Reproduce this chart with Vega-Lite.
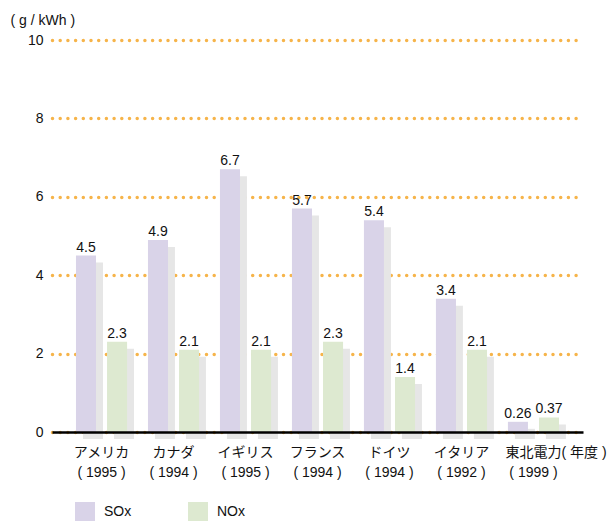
{
  "$schema": "https://vega.github.io/schema/vega-lite/v6.json",
  "width": 531,
  "height": 392,
  "autosize": {"type": "none"},
  "padding": {"left": 52, "top": 40, "right": 32, "bottom": 89},
  "background": "white",
  "config": {"view": {"stroke": null}},
  "data": {
    "values": [
      {"country": "アメリカ|( 1995 )", "series": "SOx", "value": 4.5},
      {"country": "アメリカ|( 1995 )", "series": "NOx", "value": 2.3},
      {"country": "カナダ|( 1994 )", "series": "SOx", "value": 4.9},
      {"country": "カナダ|( 1994 )", "series": "NOx", "value": 2.1},
      {"country": "イギリス|( 1995 )", "series": "SOx", "value": 6.7},
      {"country": "イギリス|( 1995 )", "series": "NOx", "value": 2.1},
      {"country": "フランス|( 1994 )", "series": "SOx", "value": 5.7},
      {"country": "フランス|( 1994 )", "series": "NOx", "value": 2.3},
      {"country": "ドイツ|( 1994 )", "series": "SOx", "value": 5.4},
      {"country": "ドイツ|( 1994 )", "series": "NOx", "value": 1.4},
      {"country": "イタリア|( 1992 )", "series": "SOx", "value": 3.4},
      {"country": "イタリア|( 1992 )", "series": "NOx", "value": 2.1},
      {"country": "東北電力|( 1999 )", "series": "SOx", "value": 0.26},
      {"country": "東北電力|( 1999 )", "series": "NOx", "value": 0.37}
    ]
  },
  "encoding": {
    "x": {
      "field": "country",
      "type": "nominal",
      "sort": null,
      "scale": {"paddingInner": 0.29, "paddingOuter": 0.333},
      "axis": {
        "title": "( 年度 )",
        "titleX": 509,
        "titleY": 13,
        "titleAlign": "left",
        "titleBaseline": "top",
        "titleFont": "Liberation Sans, Noto Sans CJK JP",
        "titleFontSize": 14,
        "titleFontWeight": "normal",
        "titleColor": "#111111",
        "labelExpr": "split(datum.value, '|')",
        "labelAngle": 0,
        "labelFont": "Liberation Sans, Noto Sans CJK JP",
        "labelFontSize": 14,
        "labelColor": "#111111",
        "labelLineHeight": 20,
        "labelPadding": 13,
        "ticks": false,
        "tickSize": 0,
        "domainColor": "#000000",
        "domainWidth": 2.5,
        "grid": false,
        "zindex": 1
      }
    },
    "y": {
      "field": "value",
      "type": "quantitative",
      "scale": {"domain": [0, 10], "nice": false},
      "axis": {
        "values": [0, 2, 4, 6, 8, 10],
        "title": "( g / kWh )",
        "titleAngle": 0,
        "titleAlign": "left",
        "titleBaseline": "middle",
        "titleX": -42,
        "titleY": -20,
        "titleFont": "Liberation Sans",
        "titleFontSize": 14,
        "titleFontWeight": "normal",
        "titleColor": "#111111",
        "domain": false,
        "ticks": false,
        "tickSize": 0,
        "labelPadding": 9,
        "labelFont": "Liberation Sans",
        "labelFontSize": 14,
        "labelColor": "#111111",
        "gridColor": "#F6B44A",
        "gridDash": [0, 7.7],
        "gridCap": "round",
        "gridWidth": 3.5
      }
    }
  },
  "resolve": {"scale": {"xOffset": "independent"}},
  "layer": [
    {
      "mark": {"type": "bar", "color": "#e6e6e6", "yOffset": 7, "y2Offset": 0},
      "encoding": {
        "xOffset": {
          "field": "series",
          "type": "nominal",
          "sort": ["SOx", "NOx"],
          "scale": {"paddingInner": 0.355, "paddingOuter": 0, "range": [7, 58]}
        }
      }
    },
    {
      "encoding": {
        "xOffset": {
          "field": "series",
          "type": "nominal",
          "sort": ["SOx", "NOx"],
          "scale": {"paddingInner": 0.355, "paddingOuter": 0}
        }
      },
      "layer": [
        {
          "mark": {"type": "bar"},
          "encoding": {
            "color": {
              "field": "series",
              "type": "nominal",
              "sort": ["SOx", "NOx"],
              "scale": {"domain": ["SOx", "NOx"], "range": ["#d9d3e8", "#dde9d0"]},
              "legend": {
                "orient": "none",
                "legendX": 23,
                "legendY": 462,
                "direction": "horizontal",
                "title": null,
                "symbolType": "square",
                "symbolSize": 400,
                "symbolStrokeWidth": 0,
                "labelFont": "Liberation Sans",
                "labelFontSize": 14,
                "labelColor": "#111111",
                "labelOffset": 9,
                "columnPadding": 56,
                "padding": 0
              }
            }
          }
        },
        {
          "mark": {"type": "text", "baseline": "alphabetic", "dy": -4, "font": "Liberation Sans", "fontSize": 14, "color": "#111111"},
          "encoding": {
            "text": {"field": "value", "type": "quantitative"}
          }
        }
      ]
    }
  ]
}
